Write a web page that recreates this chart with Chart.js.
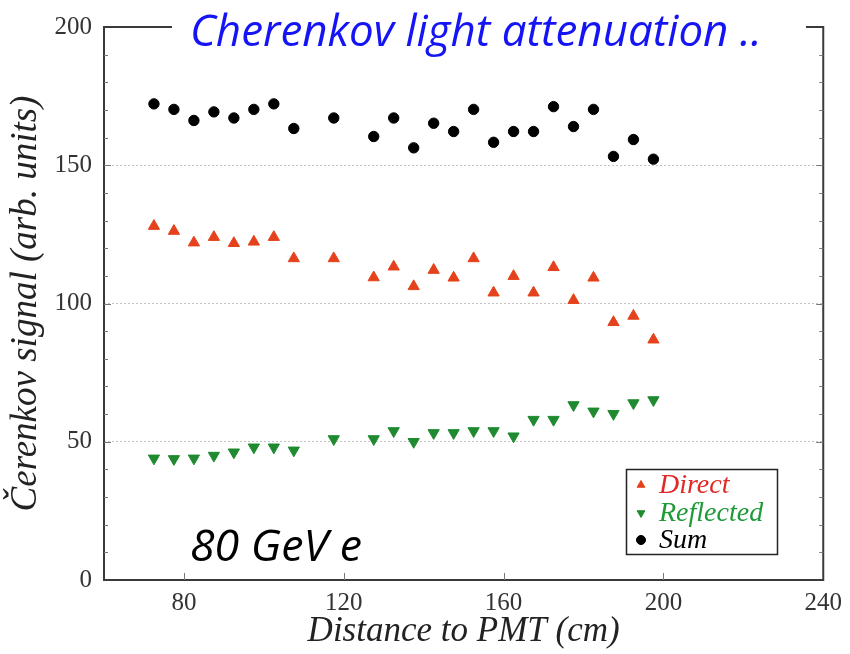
<!DOCTYPE html>
<html>
<head>
<meta charset="utf-8">
<script src="https://cdn.jsdelivr.net/npm/chart.js@4/dist/chart.umd.min.js"></script>
<style>
  html, body { margin: 0; padding: 0; background: #fff; }
  #wrap { width: 850px; height: 654px; }
</style>
</head>
<body>
<div id="wrap"><canvas id="myChart" width="850" height="654"></canvas></div>
<script>
// distances along the bar (cm)
const distance = [72.5, 77.5, 82.5, 87.5, 92.5, 97.5, 102.5, 107.5, 117.5,
  127.5, 132.5, 137.5, 142.5, 147.5, 152.5, 157.5, 162.5, 167.5, 172.5,
  177.5, 182.5, 187.5, 192.5, 197.5];
const sumSignal = [172.2, 170.2, 166.2, 169.3, 167.1, 170.2, 172.2, 163.3, 167.1,
  160.4, 167.1, 156.3, 165.2, 162.2, 170.2, 158.3, 162.2, 162.2, 171.2,
  164.0, 170.2, 153.2, 159.3, 152.2];
const directSignal = [128, 126.2, 122, 124, 121.8, 122.3, 124, 116.3, 116.3,
  109.4, 113.3, 106.2, 112.1, 109.3, 116.3, 103.9, 109.9, 103.9, 113.1,
  101.2, 109.3, 93.2, 95.5, 86.9];
const reflectedSignal = [44, 43.8, 44, 45, 46.2, 48, 48, 46.9, 51,
  51, 53.9, 50, 53.2, 53.2, 53.9, 53.9, 52, 58, 58,
  63.3, 61, 60.1, 64, 65.1];
const xTicks = [80, 120, 160, 200, 240];
const seriesNames = ["Direct", "Reflected", "Sum"];

const RED = "#e4421c", GREEN = "#1f8a30", BLACK = "#000";
const SERIF = "'Liberation Serif', 'DejaVu Serif', serif";

const toPoints = (ys) => distance.map((x, i) => ({x: x, y: ys[i]}));

// frame, inner ticks, title, note and legend
const decor = {
  id: "decor",
  afterDraw(chart) {
    const ctx = chart.ctx;
    const a = chart.chartArea;
    const xs = chart.scales.x, ys = chart.scales.y;
    ctx.save();
    ctx.strokeStyle = "#3a3a3a";
    ctx.lineWidth = 2;
    ctx.strokeRect(a.left, a.top, a.right - a.left, a.bottom - a.top);

    ctx.lineWidth = 1;
    ctx.strokeStyle = "#777";
    for (let v = 10; v < 200; v += 10) {
      const py = Math.round(ys.getPixelForValue(v)) + 0.5;
      const len = v % 50 == 0 ? 7 : 4;
      ctx.beginPath();
      ctx.moveTo(a.left, py); ctx.lineTo(a.left + len, py);
      ctx.moveTo(a.right, py); ctx.lineTo(a.right - len, py);
      ctx.stroke();
    }
    xTicks.forEach(v => {
      if (v >= 240) return;
      const px = Math.round(xs.getPixelForValue(v)) + 0.5;
      ctx.beginPath();
      ctx.moveTo(px, a.bottom); ctx.lineTo(px, a.bottom - 7);
      ctx.stroke();
    });

    // title over the top edge
    ctx.fillStyle = "#fff";
    ctx.fillRect(172, 10, 634, 18);
    const title = "Cherenkov light attenuation ..";
    let size = 40;
    ctx.font = "italic " + size + "px 'Open Sans'";
    size = size * 572 / ctx.measureText(title).width;
    ctx.font = "italic " + size + "px 'Open Sans'";
    ctx.fillStyle = "#1414f5";
    ctx.textBaseline = "alphabetic";
    ctx.textAlign = "left";
    ctx.fillText(title, 190, 46);

    const note = "80 GeV e";
    let ns = 36;
    ctx.font = "italic " + ns + "px 'Open Sans'";
    ns = ns * 172 / ctx.measureText(note).width;
    ctx.font = "italic " + ns + "px 'Open Sans'";
    ctx.fillStyle = "#000";
    ctx.fillText(note, 190, 561);

    // legend box
    ctx.fillStyle = "#fff";
    ctx.fillRect(626, 469, 152, 86);
    ctx.strokeStyle = "#222";
    ctx.lineWidth = 1.5;
    ctx.strokeRect(626.5, 469.5, 151, 85);
    const rows = [
      {name: seriesNames[0], color: "#e02828", mark: RED, style: "triangle", rot: 0, y: 485},
      {name: seriesNames[1], color: "#1e9a38", mark: GREEN, style: "triangle", rot: 180, y: 513},
      {name: seriesNames[2], color: BLACK, mark: BLACK, style: "circle", rot: 0, y: 540}
    ];
    ctx.font = "italic 28px " + SERIF;
    ctx.textBaseline = "middle";
    rows.forEach(r => {
      ctx.fillStyle = r.mark;
      ctx.strokeStyle = r.mark;
      ctx.lineWidth = 1;
      Chart.helpers.drawPoint(ctx, {pointStyle: r.style, radius: 4.5, rotation: r.rot, borderWidth: 1}, 641, r.y);
      ctx.fillStyle = r.color;
      ctx.fillText(r.name, 659, r.y + 1);
    });
    ctx.restore();
  }
};

new Chart(document.getElementById("myChart").getContext("2d"), {
  type: "scatter",
  data: {
    datasets: [
      {label: seriesNames[0], data: toPoints(directSignal), pointStyle: "triangle",
        pointRadius: 6.5, backgroundColor: RED, borderColor: RED, borderWidth: 1},
      {label: seriesNames[1], data: toPoints(reflectedSignal), pointStyle: "triangle",
        rotation: 180, pointRadius: 6.5, backgroundColor: GREEN, borderColor: GREEN, borderWidth: 1},
      {label: seriesNames[2], data: toPoints(sumSignal), pointStyle: "circle",
        pointRadius: 5.2, backgroundColor: BLACK, borderColor: BLACK, borderWidth: 1}
    ]
  },
  options: {
    responsive: false,
    animation: false,
    layout: {padding: {left: 0, right: 26, top: 20, bottom: 0}},
    plugins: {
      legend: {display: false},
      tooltip: {enabled: false}
    },
    scales: {
      x: {
        type: "linear", min: 60, max: 240,
        afterBuildTicks: (s) => { s.ticks = xTicks.map(v => ({value: v})); },
        afterFit: (s) => { s.height = 74; },
        grid: {display: false, drawTicks: false},
        border: {display: false},
        ticks: {padding: 8, color: "#333", font: {family: SERIF, size: 25}},
        title: {display: true, text: "Distance to PMT (cm)", color: "#222",
          font: {family: SERIF, size: 35, style: "italic"}, padding: {top: 0, bottom: 1}}
      },
      y: {
        min: 0, max: 200,
        ticks: {stepSize: 50, padding: 12, color: "#333", font: {family: SERIF, size: 25}},
        afterFit: (s) => { s.width = 104; },
        grid: {
          drawTicks: false,
          color: (c) => (c.tick && c.tick.value > 0 && c.tick.value < 200) ? "#c4c4c4" : "rgba(0,0,0,0)",
          lineWidth: 1
        },
        border: {display: false, dash: [2, 2]},
        title: {display: true, text: "Čerenkov signal (arb. units)", color: "#222",
          font: {family: SERIF, size: 37, style: "italic"}, padding: {top: 4, bottom: 0}}
      }
    }
  },
  plugins: [decor]
});
</script>
</body>
</html>
